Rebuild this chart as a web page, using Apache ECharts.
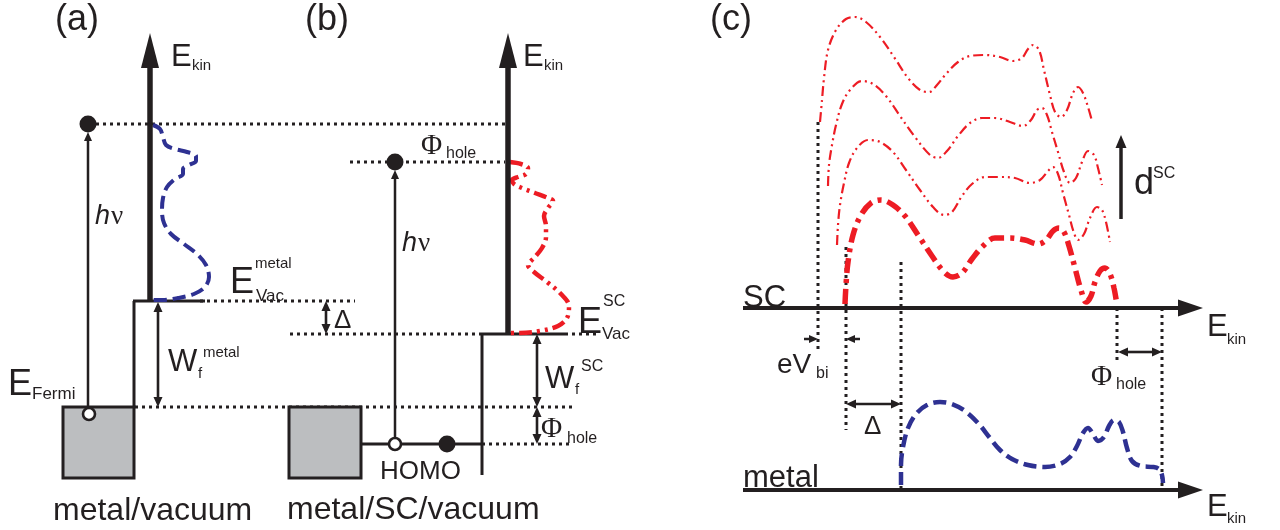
<!DOCTYPE html>
<html><head><meta charset="utf-8">
<script src="https://cdn.jsdelivr.net/npm/echarts@6/dist/echarts.min.js"></script>
<style>html,body{margin:0;padding:0;background:#fff}#c{width:1280px;height:530px}</style>
</head><body><div id="c"></div>
<script>
// ---------- diagram data (drawing units = reference picture units) ----------
// photoemission spectrum, metal/vacuum (a)
const spectrumMetalA = [[153,125],[160,129],[163,137],[166,145],[175,149],[187,152],[196,156],[196,161],[189,165],[183,169],[183,174],[175,179],[167,187],[163,198],[162,211],[164,223],[171,234],[184,244],[197,254],[206,265],[209,277],[205,287],[194,294],[178,298],[162,300],[150,300]];
// spectrum metal/SC/vacuum (b)
const spectrumSCB = [[510,162],[521,164],[528,168],[526,174],[518,177],[512,180],[514,184],[522,188],[535,193],[548,198],[553,201],[548,208],[544,216],[546,226],[546,237],[542,248],[534,258],[528,265],[534,272],[547,282],[561,294],[569,306],[567,318],[558,326],[540,331],[520,333],[509,333]];
// (c) SC spectra for increasing thickness d^SC
const scSpectrum1 = [[845,304],[846,285],[848,262],[853,235],[861,215],[871,203],[881,200],[893,205],[905,216],[918,235],[932,256],[944,272],[953,277],[962,273],[972,259],[983,246],[995,238],[1010,238],[1025,240],[1038,244],[1046,240],[1053,231],[1059,228],[1064,232],[1069,246],[1075,268],[1081,290],[1086,302],[1091,296],[1095,282],[1100,271],[1105,268],[1110,274],[1114,288],[1117,305]];
const scSpectrum2 = [[837,245],[838,225],[840,205],[844,183],[849,163],[857,148],[868,140],[880,142],[893,152],[906,170],[920,190],[933,207],[944,215],[952,212],[962,196],[972,184],[985,177],[1000,177],[1015,178],[1030,183],[1040,180],[1048,171],[1053,167],[1058,174],[1063,193],[1069,215],[1074,233],[1078,240],[1084,234],[1090,218],[1097,207],[1102,210],[1106,222],[1110,242]];
const scSpectrum3 = [[828,186],[829,165],[832,145],[836,125],[842,104],[850,90],[862,81],[873,84],[886,96],[900,116],[915,137],[930,155],[938,158],[947,151],[958,136],[970,123],[982,118],[995,118],[1010,122],[1023,126],[1031,120],[1037,110],[1042,108],[1047,115],[1052,132],[1058,152],[1064,172],[1070,183],[1076,178],[1082,162],[1088,151],[1094,155],[1098,168],[1102,185]];
const scSpectrum4 = [[820,122],[822,100],[824,78],[828,50],[836,30],[846,19],[855,17],[866,22],[880,37],[894,57],[908,78],[920,90],[929,92],[937,85],[946,74],[958,62],[970,56],[985,55],[1000,57],[1013,61],[1022,58],[1028,49],[1033,45],[1039,50],[1044,70],[1050,95],[1055,112],[1061,117],[1067,110],[1073,93],[1078,87],[1083,93],[1088,107],[1092,121]];
const metalSpectrumC = [[901,485],[901,465],[903,447],[908,428],[916,414],[927,405],[940,402],[952,404],[965,411],[978,423],[990,438],[1000,450],[1012,459],[1028,465],[1045,467],[1060,464],[1070,457],[1077,446],[1083,433],[1088,428],[1093,434],[1098,441],[1104,437],[1109,426],[1114,420],[1119,422],[1123,432],[1127,448],[1132,461],[1141,466],[1153,467],[1159,469],[1162,475],[1163,483]];

// energy levels
const dottedLevels = [[96,124,505,124],[350,162,505,162],[200,301,355,301],[290,334,482,334],[565,334,600,334],[135,407,575,407],[482,444,570,444],
  [818,122,818,353],[846,247,846,430],[901,262,901,490],[1117,308,1117,362],[1162,308,1162,490]];
const solidLevels = [[133,301,205,301],[134,301,134,407],[482,334,565,334],[482,334,482,475],[361,444,482,444]];
const fermiBoxes = [[63,407,134,478],[289,407,361,478]];
const filledStates = [[88,124],[395,162],[447,444]];
const emptyStates = [[89,414],[395,444]];

// arrows [x1,y1,x2,y2] (head at x2,y2)
const energyAxes = [[150,301,150,33],[508,334,508,33]];
const kineticAxes = [[743,308,1203,308],[743,490,1203,490]];
const singleArrows = [[88,407,88,132],[395,437,395,170],[804,339,818,339],[860,339,846,339]];
const doubleArrows = [[158,302,158,407],[326,301,326,334],[537,334,537,407],[537,407,537,444],[846,404,901,404],[1118,352,1162,352]];
const thicknessArrow = [[1121,219,1121,135]];

// labels and their layout [x, baseline, fontSize, italic, serif]
const labels = ['(a)','(b)','(c)',
  'E','kin','E','kin',
  'h','ν','h','ν',
  'E','metal','Vac',
  'W','metal','f',
  'E','Fermi',
  'metal/vacuum',
  'Φ','hole',
  'Δ',
  'E','SC','Vac',
  'W','SC','f',
  'Φ','hole',
  'HOMO',
  'metal/SC/vacuum',
  'SC','metal',
  'E','kin','E','kin',
  'eV','bi',
  'Δ',
  'Φ','hole',
  'd','SC'];
const labelLayout = [[55,29,36],[305,29,36],[710,29,36],
  [171,65,31],[192,69,15],[523,65,31],[544,69,15],
  [95,223,27,1],[111,223,27,0,1],[402,250,27,1],[418,250,27,0,1],
  [230,292,36],[255,267,15],[256,300,17],
  [168,370,31],[203,356,15],[198,377,15],
  [8,394,36],[32,398,17],
  [53,519,32],
  [421,153,29,0,1],[446,157,16],
  [334,327,26],
  [578,332,36],[603,305,16],[602,338,17],
  [545,387,31],[581,370,16],[575,393,15],
  [541,436,29,0,1],[567,442,16],
  [380,478,26],
  [287,518,32],
  [743,306,31],[743,486,31],
  [1207,335,31],[1227,343,15],[1207,515,31],[1227,522,15],
  [777,372,28],[816,377,16],
  [864,433,26],
  [1091,384,29,0,1],[1116,388,16],
  [1134,193,36],[1153,177,16]];

// ---------- rendering ----------
const INK = '#231f20', RED = '#ed1c24', BLUE = '#2e3192', GRAY = '#bcbec0';
const SANS = '"Liberation Sans", Arial, Helvetica, sans-serif';
const SERIF = '"Liberation Serif", "Times New Roman", serif';

function segSeries(data, width, dash, z) {
  return { type: 'custom', data, z, silent: true, clip: false,
    renderItem: (p, api) => {
      const a = api.coord([api.value(0), api.value(1)]);
      const b = api.coord([api.value(2), api.value(3)]);
      return { type: 'line', shape: { x1: a[0], y1: a[1], x2: b[0], y2: b[1] },
        style: { stroke: INK, lineWidth: width, lineDash: dash || null, lineCap: 'butt' } };
    } };
}
function arrowSeries(data, width, headLen, headHalf, both, z) {
  return { type: 'custom', data, z, silent: true, clip: false,
    renderItem: (p, api) => {
      const a = api.coord([api.value(0), api.value(1)]);
      const b = api.coord([api.value(2), api.value(3)]);
      const dx = b[0] - a[0], dy = b[1] - a[1], L = Math.hypot(dx, dy);
      const ux = dx / L, uy = dy / L, nx = -uy, ny = ux;
      const s = both ? [a[0] + ux * headLen * 0.7, a[1] + uy * headLen * 0.7] : a;
      const e = [b[0] - ux * headLen * 0.7, b[1] - uy * headLen * 0.7];
      const kids = [{ type: 'line', shape: { x1: s[0], y1: s[1], x2: e[0], y2: e[1] }, style: { stroke: INK, lineWidth: width } }];
      const head = (t, vx, vy) => ({ type: 'polygon', shape: { points: [
        [t[0], t[1]], [t[0] - vx * headLen + nx * headHalf, t[1] - vy * headLen + ny * headHalf],
        [t[0] - vx * headLen - nx * headHalf, t[1] - vy * headLen - ny * headHalf]] }, style: { fill: INK } });
      kids.push(head(b, ux, uy));
      if (both) kids.push(head(a, -ux, -uy));
      return { type: 'group', children: kids };
    } };
}
function curve(data, color, width, dash, z) {
  return { type: 'line', data, z, smooth: 0.35, showSymbol: false, silent: true,
    lineStyle: { color, width, type: dash, cap: 'butt' } };
}

const series = [
  segSeries(dottedLevels, 3, [3, 4], 1),
  segSeries(solidLevels, 3, null, 2),
  { type: 'custom', data: fermiBoxes, z: 2, silent: true, clip: false,
    renderItem: (p, api) => {
      const a = api.coord([api.value(0), api.value(1)]);
      const b = api.coord([api.value(2), api.value(3)]);
      return { type: 'rect', shape: { x: a[0], y: a[1], width: b[0] - a[0], height: b[1] - a[1] },
        style: { fill: GRAY, stroke: INK, lineWidth: 3 } };
    } },
  curve(spectrumMetalA, BLUE, 4, [13, 6], 3),
  curve(spectrumSCB, RED, 4.5, [13, 5, 3, 5, 3, 5], 3),
  curve(scSpectrum1, RED, 5.5, [15, 6, 4, 6], 3),
  curve(scSpectrum2, RED, 2.2, [10, 4, 2, 4, 2, 4], 3),
  curve(scSpectrum3, RED, 2.2, [10, 4, 2, 4, 2, 4], 3),
  curve(scSpectrum4, RED, 2.2, [10, 4, 2, 4, 2, 4], 3),
  curve(metalSpectrumC, BLUE, 4.5, [13, 6], 3),
  arrowSeries(energyAxes, 5.5, 35, 9, false, 4),
  arrowSeries(kineticAxes, 4, 25, 8.5, false, 4),
  arrowSeries(singleArrows, 2.5, 9, 4, false, 4),
  arrowSeries(doubleArrows, 2.6, 10, 4.5, true, 4),
  arrowSeries(thicknessArrow, 3.5, 13, 5.5, false, 4),
  { type: 'custom', data: filledStates, z: 5, silent: true, clip: false,
    renderItem: (p, api) => {
      const c = api.coord([api.value(0), api.value(1)]);
      return { type: 'circle', shape: { cx: c[0], cy: c[1], r: 8.5 }, style: { fill: INK } };
    } },
  { type: 'custom', data: emptyStates, z: 5, silent: true, clip: false,
    renderItem: (p, api) => {
      const c = api.coord([api.value(0), api.value(1)]);
      return { type: 'circle', shape: { cx: c[0], cy: c[1], r: 6 }, style: { fill: '#fff', stroke: INK, lineWidth: 2.6 } };
    } },
  { type: 'custom', data: labelLayout.map(l => [l[0], l[1]]), z: 6, silent: true, clip: false,
    renderItem: (p, api) => {
      const l = labelLayout[p.dataIndex];
      const c = api.coord([api.value(0), api.value(1)]);
      const size = l[2];
      return { type: 'text', x: c[0], y: c[1] - 0.24 * size,
        style: { text: labels[p.dataIndex], fill: INK, align: 'left', verticalAlign: 'middle',
          font: (l[3] ? 'italic ' : '') + size + 'px ' + (l[4] ? SERIF : SANS) } };
    } }
];

const chart = echarts.init(document.getElementById('c'), null, { renderer: 'canvas' });
chart.setOption({
  backgroundColor: '#fff',
  animation: false,
  grid: { left: 0, right: 0, top: 0, bottom: 0 },
  xAxis: { type: 'value', min: 0, max: 1280, show: false },
  yAxis: { type: 'value', min: 0, max: 530, inverse: true, show: false },
  series
});
</script></body></html>
